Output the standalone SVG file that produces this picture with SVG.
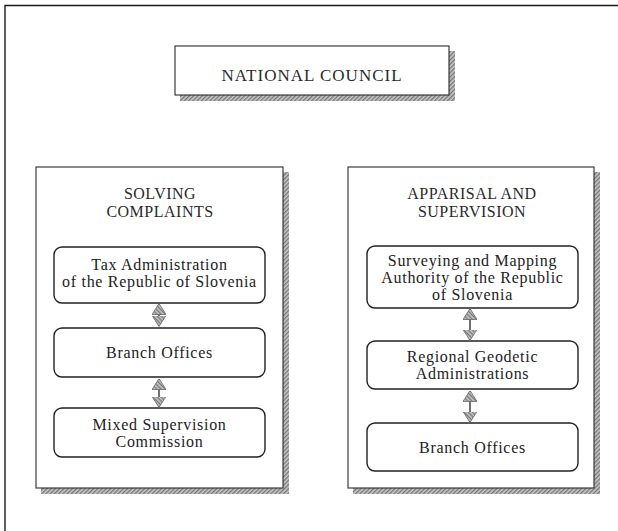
<svg xmlns="http://www.w3.org/2000/svg" width="618" height="531" viewBox="0 0 618 531">
  <defs>
    <pattern id="hatch" width="3" height="3" patternUnits="userSpaceOnUse" patternTransform="rotate(45)">
      <rect width="3" height="3" fill="#c8c8c8"/>
      <rect width="1.4" height="3" fill="#7a7a7a"/>
    </pattern>
    <!-- hatched arrowhead, tip along +x so it follows the line direction -->
    <marker id="head" viewBox="0 0 11 14" refX="10.5" refY="7" markerWidth="11" markerHeight="14" markerUnits="userSpaceOnUse" orient="auto-start-reverse">
      <path d="M0,0 L11,7 L0,14 Z" fill="url(#hatch)" stroke="#666" stroke-width="0.8"/>
    </marker>
  </defs>
  <style>
    .frame { fill: none; stroke: #1a1a1a; stroke-width: 1.4; }
    .panel { fill: #fff; stroke: #2a2a2a; stroke-width: 1.1; }
    .shadow { fill: url(#hatch); }
    .unit { fill: #fff; stroke: #222; stroke-width: 1.4; }
    .title { font-family: "Liberation Serif", "Times New Roman", serif; font-size: 17px; fill: #2a2a2a; text-anchor: middle; letter-spacing: 1px; }
    .head { font-family: "Liberation Serif", "Times New Roman", serif; font-size: 16px; fill: #2a2a2a; text-anchor: middle; letter-spacing: 0.5px; }
    .label { font-family: "Liberation Serif", "Times New Roman", serif; font-size: 16px; fill: #222; text-anchor: middle; letter-spacing: 0.7px; }
    .link { fill: none; stroke: #111; stroke-width: 1.2; marker-start: url(#head); marker-end: url(#head); }
  </style>

  <!-- page frame (top and left rules) -->
  <path class="frame" d="M5,531 L5,5.5 L618,5.5"/>

  <!-- top body -->
  <g id="national-council">
    <rect class="shadow" x="449" y="51" width="6" height="50"/>
    <rect class="shadow" x="180" y="95" width="275" height="6"/>
    <rect class="panel" x="175" y="46" width="274" height="49"/>
    <text class="title" x="312" y="81">NATIONAL COUNCIL</text>
  </g>

  <!-- left panel -->
  <g id="solving-complaints">
    <rect class="shadow" x="283" y="172" width="6" height="322"/>
    <rect class="shadow" x="41" y="488" width="248" height="6"/>
    <rect class="panel" x="36" y="167" width="247" height="321"/>
    <text class="head" x="160" y="199">SOLVING</text>
    <text class="head" x="160" y="217">COMPLAINTS</text>
  </g>

  <g id="tax-administration">
    <rect class="unit" x="54" y="247" width="211" height="56" rx="8"/>
    <text class="label" x="159.5" y="270">Tax Administration</text>
    <text class="label" x="159.5" y="287">of the Republic of Slovenia</text>
  </g>

  <g id="branch-offices-left">
    <rect class="unit" x="54" y="328" width="211" height="49" rx="8"/>
    <text class="label" x="159.5" y="358">Branch Offices</text>
  </g>

  <g id="mixed-supervision-commission">
    <rect class="unit" x="54" y="408" width="211" height="49" rx="8"/>
    <text class="label" x="159.5" y="430">Mixed Supervision</text>
    <text class="label" x="159.5" y="447">Commission</text>
  </g>

  <!-- right panel -->
  <g id="appraisal-supervision">
    <rect class="shadow" x="594" y="172" width="6" height="322"/>
    <rect class="shadow" x="353" y="488" width="247" height="6"/>
    <rect class="panel" x="348" y="167" width="246" height="321"/>
    <text class="head" x="472" y="199">APPARISAL AND</text>
    <text class="head" x="472" y="217">SUPERVISION</text>
  </g>

  <g id="surveying-mapping-authority">
    <rect class="unit" x="367" y="246" width="211" height="62" rx="8"/>
    <text class="label" x="472.5" y="266">Surveying and Mapping</text>
    <text class="label" x="472.5" y="283">Authority of the Republic</text>
    <text class="label" x="472.5" y="300">of Slovenia</text>
  </g>

  <g id="regional-geodetic-administrations">
    <rect class="unit" x="367" y="341" width="211" height="48" rx="8"/>
    <text class="label" x="472.5" y="362">Regional Geodetic</text>
    <text class="label" x="472.5" y="379">Administrations</text>
  </g>

  <g id="branch-offices-right">
    <rect class="unit" x="367" y="423" width="211" height="48" rx="8"/>
    <text class="label" x="472.5" y="453">Branch Offices</text>
  </g>

  <!-- two-way links between units -->
  <g id="connectors">
    <line class="link" x1="159" y1="304" x2="159" y2="326"/>
    <line class="link" x1="159" y1="379" x2="159" y2="407"/>
    <line class="link" x1="470" y1="309" x2="470" y2="340"/>
    <line class="link" x1="470" y1="391" x2="470" y2="422"/>
  </g>
</svg>
